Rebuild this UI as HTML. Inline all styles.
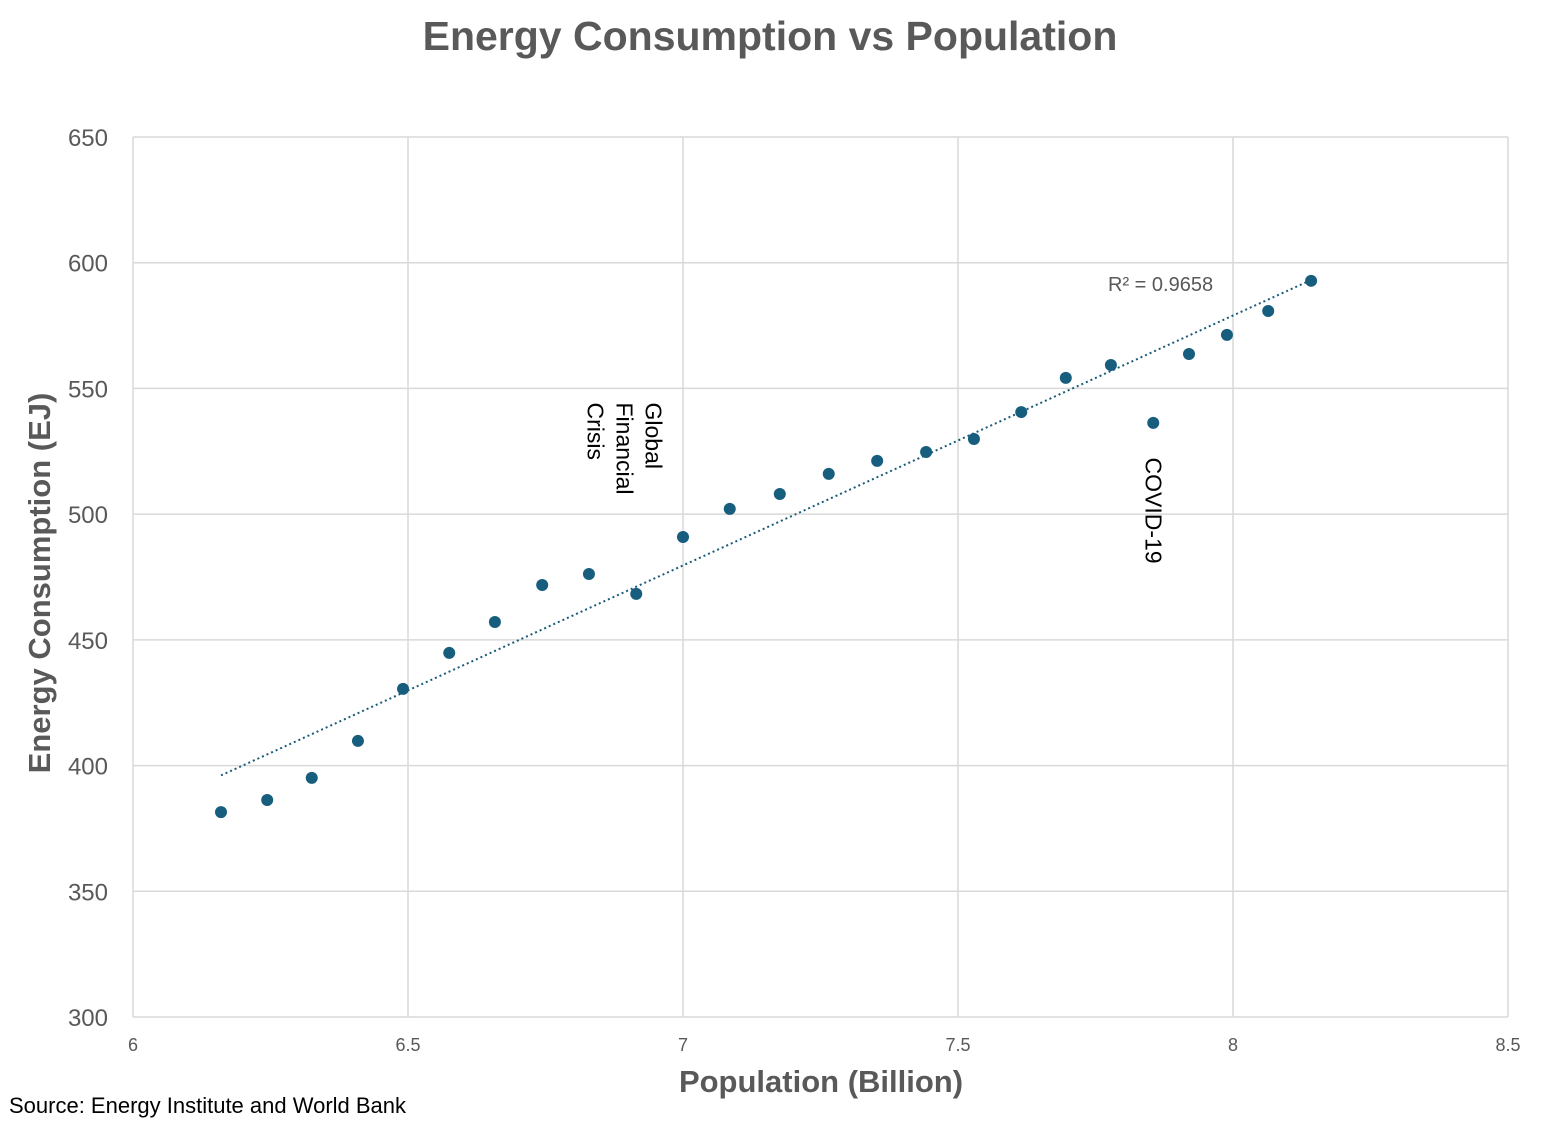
<!DOCTYPE html>
<html><head><meta charset="utf-8"><style>
body{margin:0;background:#fff;width:1543px;height:1121px;overflow:hidden;font-family:"Liberation Sans",sans-serif;position:relative}
.ann{position:absolute;font-size:23px;color:#000;transform:rotate(90deg);transform-origin:center;white-space:nowrap;line-height:29px;text-align:left}
</style></head><body>
<svg id="chart" width="1543" height="1121" style="position:absolute;left:0;top:0"></svg>
<div class="ann" style="left:564px;top:419px;width:120px;height:87px;">Global<br>Financial<br>Crisis</div>
<div class="ann" style="left:1093px;top:503px;width:120px;height:29px;">COVID-19</div>
<script>
const popX=[6.160,6.244,6.325,6.409,6.491,6.575,6.658,6.744,6.829,6.915,7.000,7.085,7.176,7.265,7.353,7.442,7.529,7.615,7.696,7.778,7.855,7.920,7.989,8.064,8.142];
const energyY=[381.5,386.3,395.1,409.8,430.5,444.8,457.1,471.8,476.2,468.3,490.9,502.1,508.0,516.0,521.2,524.7,529.9,540.6,554.2,559.3,536.3,563.7,571.3,580.8,592.8];
const xTicks=[6,6.5,7,7.5,8,8.5];
const yTicks=[300,350,400,450,500,550,600,650];
const NS="http://www.w3.org/2000/svg";
const svg=document.getElementById('chart');
const L=133,R=1508,T=137,B=1017;
const sx=v=>L+(v-6)/2.5*(R-L);
const sy=v=>B-(v-300)/350*(B-T);
function el(tag,attrs,parent){const e=document.createElementNS(NS,tag);for(const k in attrs)e.setAttribute(k,attrs[k]);(parent||svg).appendChild(e);return e;}
function txt(s,attrs){const e=el('text',attrs);e.textContent=s;return e;}
const title=txt('Energy Consumption vs Population',{x:770,y:50,'text-anchor':'middle','font-size':41,'font-weight':'bold',fill:'#595959'});


yTicks.forEach(v=>{
  const g=el('line',{x1:L,x2:R,y1:sy(v),y2:sy(v),stroke:'#d9d9d9','stroke-width':1.5});
  
  
  const t=txt(v,{x:108,y:sy(v)+9,'text-anchor':'end','font-size':24,fill:'#595959'});
  
  
});
xTicks.forEach(v=>{
  const g=el('line',{x1:sx(v),x2:sx(v),y1:T,y2:B,stroke:'#d9d9d9','stroke-width':1.5});
  
  
  const t=txt(v,{x:sx(v),y:B+34,'text-anchor':'middle','font-size':18,fill:'#595959'});
  
  
});
const xt=txt('Population (Billion)',{x:821,y:1092,'text-anchor':'middle','font-size':31,'font-weight':'bold',fill:'#595959'});


const yt=txt('Energy Consumption (EJ)',{x:0,y:0,'text-anchor':'middle','font-size':31,'font-weight':'bold',fill:'#595959',transform:'translate(50,583) rotate(-90)'});


const n=popX.length;const mx=popX.reduce((a,b)=>a+b)/n,my=energyY.reduce((a,b)=>a+b)/n;
let sxy=0,sxx=0,syy=0;for(let i=0;i<n;i++){sxy+=(popX[i]-mx)*(energyY[i]-my);sxx+=(popX[i]-mx)**2;syy+=(energyY[i]-my)**2;}
const m=sxy/sxx,b0=my-m*mx;const r2=sxy*sxy/(sxx*syy);
const x0=Math.min(...popX),x1=Math.max(...popX);
const tl=el('line',{x1:sx(x0),y1:sy(m*x0+b0),x2:sx(x1),y2:sy(m*x1+b0),stroke:'#1a5b7a','stroke-width':2,'stroke-dasharray':'2,3'});


const rl=txt('R² = '+r2.toFixed(4),{x:1108,y:291,'font-size':20,fill:'#595959'});


for(let i=0;i<n;i++){
  const c=el('circle',{cx:sx(popX[i]),cy:sy(energyY[i]),r:6,fill:'#175d7e'});
  
  
}
const src=txt('Source: Energy Institute and World Bank',{x:9,y:1113,'font-size':22,fill:'#000'});


</script>
</body></html>
